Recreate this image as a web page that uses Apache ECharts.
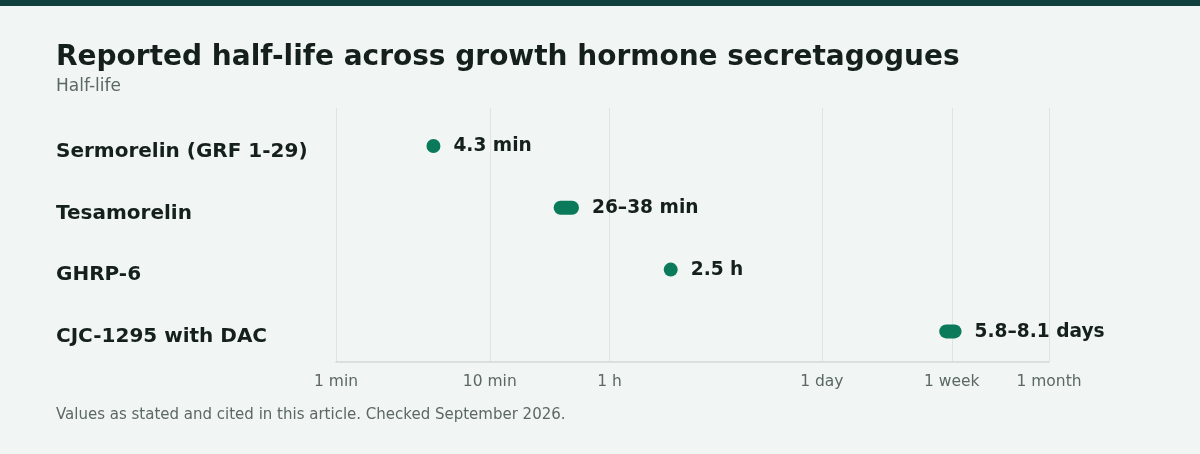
<!DOCTYPE html>
<html><head><meta charset="utf-8">
<script src="https://cdn.jsdelivr.net/npm/echarts@6/dist/echarts.min.js"></script>
<style>html,body{margin:0;padding:0;background:#f1f5f3}#c{width:1200px;height:454px}</style>
</head><body><div id="c"></div>
<script>
const categories = ['Sermorelin (GRF 1-29)', 'Tesamorelin', 'GHRP-6', 'CJC-1295 with DAC'];
// half-life range in minutes (low / high); equal values = single point
const lowMinutes = [4.3, 26, 150, 8352];
const highMinutes = [4.3, 38, 150, 11664];
const valueLabels = ['4.3 min', '26–38 min', '2.5 h', '5.8–8.1 days'];
const tickValues = [1, 10, 60, 1440, 10080, 43200];
const tickLabels = ['1 min', '10 min', '1 h', '1 day', '1 week', '1 month'];

const GREEN = '#0a7a5b';
const DARK = '#15201c';
const GRAY = '#5c6863';
const FONT = 'DejaVu Sans';

const rows = categories.map((c, i) => [i, lowMinutes[i], highMinutes[i]]);

function tickLabelFor(v) {
  let best = 0, bd = Infinity;
  tickValues.forEach((t, i) => {
    const d = Math.abs(Math.log(v) - Math.log(t));
    if (d < bd) { bd = d; best = i; }
  });
  return tickLabels[best];
}

const chart = echarts.init(document.getElementById('c'), null, { renderer: 'canvas' });
chart.setOption({
  backgroundColor: '#f1f5f3',
  animation: false,
  textStyle: { fontFamily: FONT },
  graphic: [
    { type: 'rect', left: 0, top: 0, shape: { width: 1200, height: 6 }, style: { fill: '#113f3d' } }
  ],
  title: [
    { text: 'Reported half-life across growth hormone secretagogues', left: 56, top: 44, padding: 0,
      textStyle: { fontFamily: FONT, fontSize: 28, fontWeight: 'bold', color: DARK } },
    { text: 'Half-life', left: 56, top: 78, padding: 0,
      textStyle: { fontFamily: FONT, fontSize: 17, fontWeight: 'normal', color: GRAY } },
    { text: 'Values as stated and cited in this article. Checked September 2026.', left: 56, top: 407.5, padding: 0,
      textStyle: { fontFamily: FONT, fontSize: 15, fontWeight: 'normal', color: GRAY } }
  ],
  grid: { left: 336, right: 151, top: 108, bottom: 92, containLabel: false },
  xAxis: {
    type: 'log', logBase: 10, min: 1, max: 43200,
    axisLine: { show: true, onZero: false, lineStyle: { color: '#d3d9d6', width: 1.5 } },
    axisTick: { show: false, customValues: tickValues },
    splitLine: { show: true, lineStyle: { color: '#dfe4e1', width: 1 } },
    minorSplitLine: { show: false },
    axisLabel: {
      customValues: tickValues, formatter: v => tickLabelFor(v),
      fontFamily: FONT, fontSize: 15.5, color: GRAY, margin: 12
    }
  },
  yAxis: {
    type: 'value', inverse: true, min: -0.615, max: 3.495,
    axisLine: { show: false }, axisTick: { show: false }, splitLine: { show: false },
    axisLabel: {
      customValues: [0.09, 1.09, 2.09, 3.09], formatter: v => categories[Math.round(v)],
      align: 'left', margin: 280,
      fontFamily: FONT, fontSize: 20, fontWeight: 'bold', color: DARK
    }
  },
  series: [{
    type: 'custom',
    data: rows,
    encode: { x: [1, 2], y: 0 },
    renderItem: function (params, api) {
      const i = api.value(0);
      const p1 = api.coord([api.value(1), i]);
      const p2 = api.coord([api.value(2), i]);
      const r = 7;
      const children = [];
      let right;
      if (p2[0] - p1[0] < 1) {
        children.push({ type: 'circle', shape: { cx: p1[0], cy: p1[1], r: r }, style: { fill: GREEN } });
        right = p1[0] + r;
      } else {
        children.push({ type: 'rect', shape: { x: p1[0], y: p1[1] - r, width: p2[0] - p1[0], height: 2 * r, r: r }, style: { fill: GREEN } });
        right = p2[0];
      }
      children.push({
        type: 'text', x: right + 13, y: p1[1] + 0.5,
        style: { text: valueLabels[i], fill: DARK, fontFamily: FONT, fontSize: 18.6, fontWeight: 'bold', verticalAlign: 'middle', align: 'left' }
      });
      return { type: 'group', children: children };
    }
  }]
});
</script></body></html>
